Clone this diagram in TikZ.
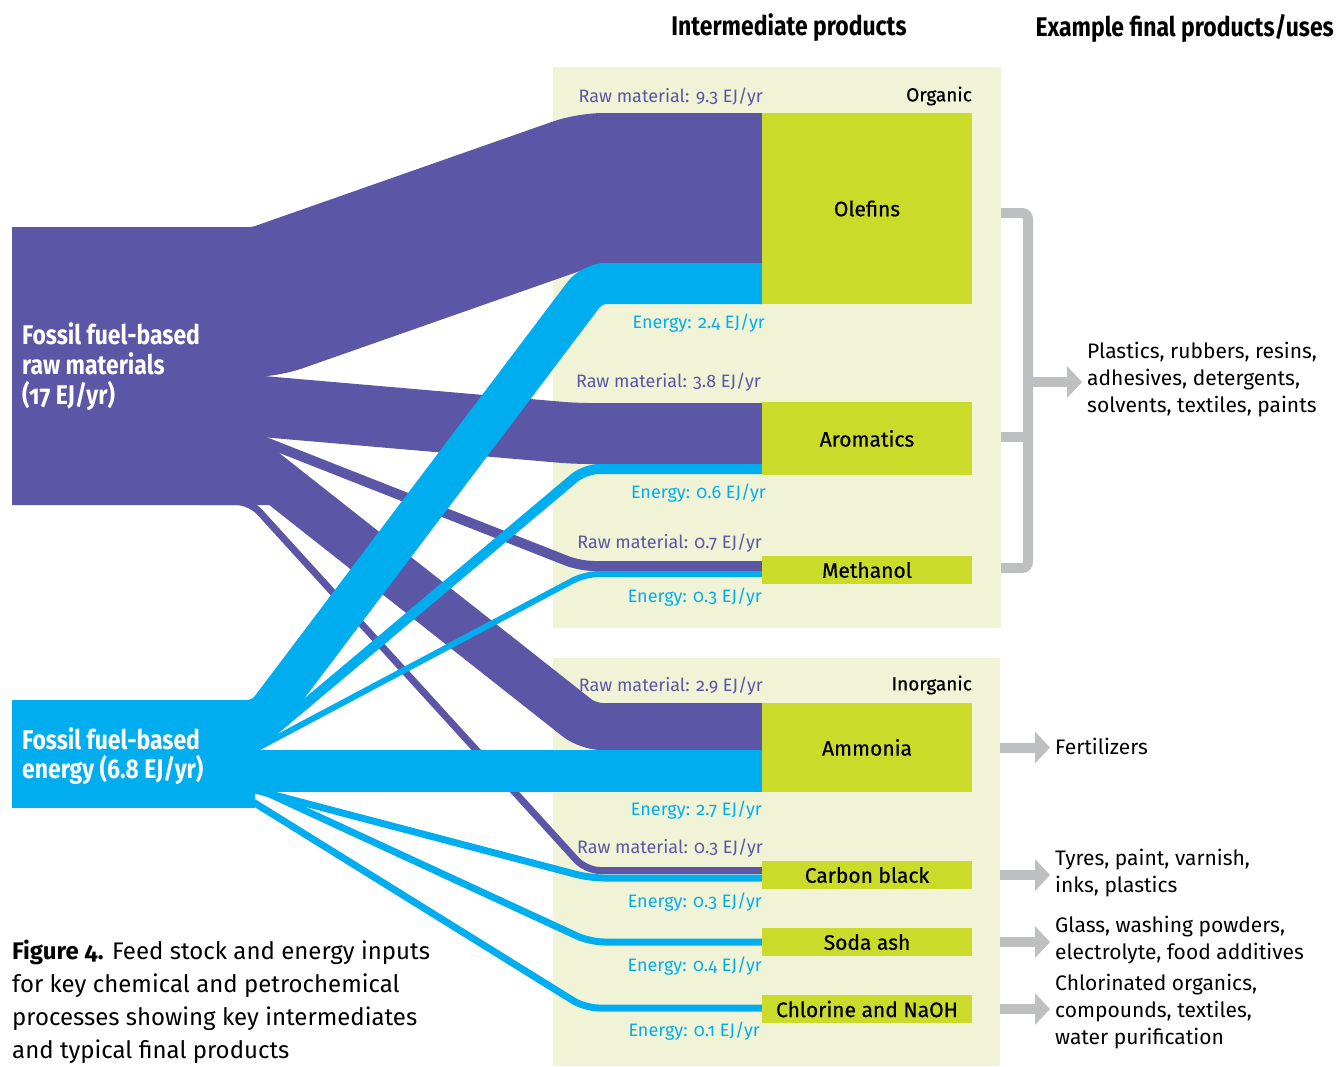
\documentclass[tikz,border=0pt]{standalone}
\usepackage{fontspec}
\setmainfont{Fira Sans}[Numbers=OldStyle]
\newfontfamily\headfont{Fira Sans}[Numbers=OldStyle,FakeStretch=0.85]
\newfontfamily\prodfont{Fira Sans}[Numbers=OldStyle,FakeBold=0.6]
\usetikzlibrary{arrows.meta}

\definecolor{rawcol}{RGB}{91,86,165}
\definecolor{encol}{RGB}{0,174,239}
\definecolor{prodcol}{RGB}{203,219,42}
\definecolor{panelcol}{RGB}{240,243,214}
\definecolor{usecol}{RGB}{190,191,193}

\begin{document}
\begin{tikzpicture}[x=1pt,y=-1pt,
	panel/.style={fill=panelcol,anchor=north west,inner sep=0pt},
	prod/.style={fill=prodcol,minimum width=210pt,inner sep=0pt,font=\prodfont\fontsize{21}{24}\selectfont},
	rawflow/.style={draw=rawcol,line width=#1,rounded corners=14pt},
	enflow/.style={draw=encol,line width=#1,rounded corners=14pt},
	rawlab/.style={text=rawcol,anchor=east,inner sep=0pt,font=\fontsize{18}{20}\selectfont},
	enlab/.style={text=encol,anchor=east,inner sep=0pt,font=\fontsize{18}{20}\selectfont},
	grouplab/.style={anchor=east,inner sep=0pt,font=\prodfont\fontsize{19}{22}\selectfont},
	srclab/.style={anchor=west,align=left,inner sep=0pt,text=white,font=\headfont\bfseries\fontsize{27}{30}\selectfont},
	head/.style={inner sep=0pt,font=\headfont\bfseries\fontsize{27}{30}\selectfont},
	usebar/.style={draw=usecol,line width=10pt,rounded corners=6pt},
	usearrow/.style={draw=usecol,line width=10pt,-{Triangle[length=15pt,width=31pt]},shorten >=5pt},
	uses/.style={anchor=west,align=left,inner sep=0pt,font=\fontsize{21}{27}\selectfont}]
	\useasboundingbox (0,0) rectangle (1337,1066);
	% panels
	\node[panel,minimum width=448pt,minimum height=561pt] (organic) at (553,67) {};
	\node[panel,minimum width=447pt,minimum height=408pt] (inorganic) at (553,658) {};
	% sources
	\fill[rawcol] (12,227) -- (250,227) -- (250,480) -- (271,505) -- (12,505) -- cycle;
	\fill[encol] (12,700) rectangle (255,808);
	% raw material flows
	\draw[rawflow=150pt] (100,302) -- (265,302) -- (590,188) -- (762,188);
	\draw[rawflow=61pt] (200,405) -- (245,405) -- (575,433.5) -- (762,433.5);
	\draw[rawflow=10pt] (250,436) -- (580,566) -- (762,566);
	\draw[rawflow=47pt] (240,452) -- (588,726.5) -- (762,726.5);
	\draw[rawflow=7pt] (200,501.5) -- (250,501.5) -- (586,870.5) -- (762,870.5);
	% energy flows
	\draw[enflow=41pt] (150,720.5) -- (262,720.5) -- (592,283.5) -- (762,283.5);
	\draw[enflow=10pt] (240,759) -- (585,469) -- (762,469);
	\draw[enflow=6pt] (250,752) -- (585,574) -- (762,574);
	\draw[enflow=42pt] (100,771) -- (762,771);
	\draw[enflow=7pt] (255,790) -- (590,878) -- (762,878);
	\draw[enflow=7pt] (250,785) -- (590,942) -- (762,942);
	\draw[enflow=7pt] (245,797) -- (585,1008) -- (762,1008);
	% intermediate products
	\node[prod,minimum height=191pt] (olefins) at (867,208.5) {Olefins};
	\node[prod,minimum height=73pt] (aromatics) at (867,438.5) {Aromatics};
	\node[prod,minimum height=28pt] (methanol) at (867,570) {Methanol};
	\node[prod,minimum height=89pt] (ammonia) at (867,747.5) {Ammonia};
	\node[prod,minimum height=28pt] (carbon) at (867,875) {Carbon black};
	\node[prod,minimum height=28pt] (soda) at (867,942) {Soda ash};
	\node[prod,minimum height=28pt] (chlorine) at (867,1009) {Chlorine and NaOH};
	% flow labels
	\node[rawlab] (r1) at (763,97) {Raw material: 9.3 EJ/yr};
	\node[enlab] (e1) at (765,323) {Energy: 2.4 EJ/yr};
	\node[rawlab] (r2) at (761,382) {Raw material: 3.8 EJ/yr};
	\node[enlab] (e2) at (766,493) {Energy: 0.6 EJ/yr};
	\node[rawlab] (r3) at (762,543) {Raw material: 0.7 EJ/yr};
	\node[enlab] (e3) at (762,597) {Energy: 0.3 EJ/yr};
	\node[rawlab] (r4) at (763,686) {Raw material: 2.9 EJ/yr};
	\node[enlab] (e4) at (762,810) {Energy: 2.7 EJ/yr};
	\node[rawlab] (r5) at (763,848) {Raw material: 0.3 EJ/yr};
	\node[enlab] (e5) at (762,902) {Energy: 0.3 EJ/yr};
	\node[enlab] (e6) at (762,966) {Energy: 0.4 EJ/yr};
	\node[enlab] (e7) at (760,1031) {Energy: 0.1 EJ/yr};
	\node[grouplab] (orglab) at (972,96) {Organic};
	\node[grouplab] (inorglab) at (972,685) {Inorganic};
	% source labels
	\node[srclab] (rawsrc) at (22,367) {Fossil fuel-based\\raw materials\\(17 EJ/yr)};
	\node[srclab,font=\headfont\bfseries\fontsize{27}{29}\selectfont] (ensrc) at (22,756.5) {Fossil fuel-based\\energy (6.8 EJ/yr)};
	% headers
	\node[head] (hmid) at (789,28) {Intermediate products};
	\node[head,anchor=east] (hright) at (1334,28) {Example final products/uses};
	% final products
	\node[uses] (plast) at (1087,380) {Plastics, rubbers, resins,\\adhesives, detergents,\\solvents, textiles, paints};
	\node[uses] (fert) at (1055,746) {Fertilizers};
	\node[uses] (tyres) at (1055,873) {Tyres, paint, varnish,\\inks, plastics};
	\node[uses] (glass) at (1055,940) {Glass, washing powders,\\electrolyte, food additives};
	\node[uses] (chlor) at (1055,1012) {Chlorinated organics,\\compounds, textiles,\\water purification};
	\draw[usebar] (1001,213) -- (1028,213) -- (1028,568) -- (1001,568);
	\draw[usebar] (1001,437) -- (1028,437);
	\coordinate (brk) at (1028,382);
	\draw[usearrow] (brk) -- (brk -| plast.west);
	\draw[usearrow] (ammonia.east -| inorganic.east) -- (ammonia.east -| fert.west);
	\draw[usearrow] (carbon.east -| inorganic.east) -- (carbon.east -| tyres.west);
	\draw[usearrow] (soda.east -| inorganic.east) -- (soda.east -| glass.west);
	\draw[usearrow] (chlorine.east -| inorganic.east) -- (chlorine.east -| chlor.west);
	% caption
	\node[anchor=west,align=left,inner sep=0pt,font=\fontsize{24}{33}\selectfont] (caption) at (12,1002) {\textbf{Figure 4.} Feed stock and energy inputs\\for key chemical and petrochemical\\processes showing key intermediates\\and typical final products};
\end{tikzpicture}
\end{document}
